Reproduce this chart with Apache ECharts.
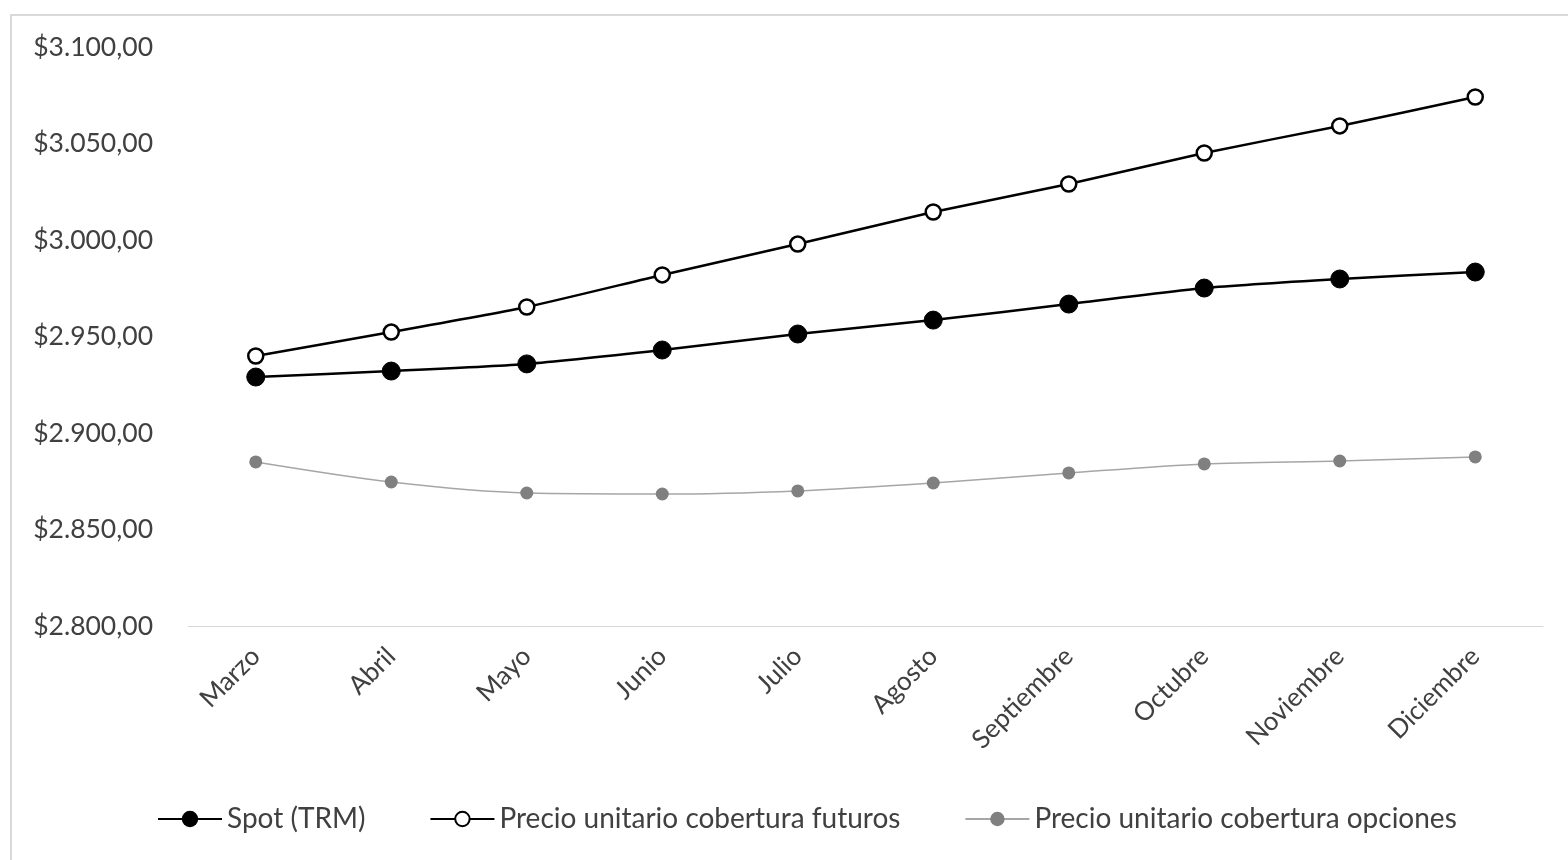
<!DOCTYPE html>
<html>
<head>
<meta charset="utf-8">
<script src="https://cdn.jsdelivr.net/npm/echarts@6/dist/echarts.min.js"></script>
<style>
  html, body { margin: 0; padding: 0; background: #fff; }
  #chart { width: 1568px; height: 860px; }
</style>
</head>
<body>
<div id="chart"></div>
<script>
// Months of the hedging horizon
const months = ['Marzo', 'Abril', 'Mayo', 'Junio', 'Julio', 'Agosto', 'Septiembre', 'Octubre', 'Noviembre', 'Diciembre'];

// Exchange rate (COP per USD)
const spotTRM = [2929.0, 2932.1, 2935.8, 2943.0, 2951.3, 2958.5, 2966.8, 2975.1, 2979.8, 2983.4];
const coberturaFuturos = [2939.9, 2952.3, 2965.3, 2981.9, 2997.9, 3014.5, 3029.0, 3045.1, 3059.1, 3074.1];
const coberturaOpciones = [2885.0, 2874.6, 2868.9, 2868.4, 2870.0, 2874.1, 2879.3, 2884.0, 2885.5, 2887.6];

const seriesNames = ['Spot (TRM)', 'Precio unitario cobertura futuros', 'Precio unitario cobertura opciones'];

const FONT = 'Lato, "Open Sans", sans-serif';
const TEXT = '#404040';

function fmtPeso(v) {
  const fixed = v.toFixed(2).split('.');
  const intPart = fixed[0].replace(/\B(?=(\d{3})+(?!\d))/g, '.');
  return '$' + intPart + ',' + fixed[1];
}

const chart = echarts.init(document.getElementById('chart'), null, { renderer: 'canvas' });

chart.setOption({
  backgroundColor: '#fff',
  animation: false,
  graphic: [{
    type: 'rect',
    shape: { x: 11, y: 15, width: 1570, height: 860 },
    style: { fill: 'none', stroke: '#d9d9d9', lineWidth: 2 },
    silent: true
  }],
  grid: { left: 188, right: 25, top: 47, bottom: 234, containLabel: false },
  xAxis: {
    type: 'category',
    data: months,
    boundaryGap: true,
    axisLine: { show: true, lineStyle: { color: '#d9d9d9', width: 1 } },
    axisTick: { show: false },
    axisLabel: {
      rotate: 45,
      color: TEXT,
      fontFamily: FONT,
      fontSize: 26,
      margin: 26,
      interval: 0
    }
  },
  yAxis: {
    type: 'value',
    min: 2800,
    max: 3100,
    interval: 50,
    axisLine: { show: false },
    axisTick: { show: false },
    splitLine: { show: false },
    axisLabel: {
      color: TEXT,
      fontFamily: FONT,
      fontSize: 26.5,
      margin: 35,
      formatter: fmtPeso
    }
  },
  legend: {
    bottom: 22,
    left: 152,
    itemWidth: 64,
    itemHeight: 18,
    itemGap: 64,
    textStyle: { color: TEXT, fontFamily: FONT, fontSize: 28 },
    data: seriesNames
  },
  series: [
    {
      name: seriesNames[0],
      type: 'line',
      data: spotTRM,
      smooth: 0.2,
      symbol: 'circle',
      symbolSize: 18,
      itemStyle: { color: '#000', borderColor: '#000', borderWidth: 1 },
      lineStyle: { color: '#000', width: 2.5 },
      z: 3
    },
    {
      name: seriesNames[1],
      type: 'line',
      data: coberturaFuturos,
      smooth: 0.2,
      symbol: 'circle',
      symbolSize: 15,
      itemStyle: { color: '#fff', borderColor: '#000', borderWidth: 2.5 },
      lineStyle: { color: '#000', width: 2.5 },
      z: 3
    },
    {
      name: seriesNames[2],
      type: 'line',
      data: coberturaOpciones,
      smooth: 0.3,
      symbol: 'circle',
      symbolSize: 13,
      itemStyle: { color: '#808080', borderColor: '#808080', borderWidth: 0 },
      lineStyle: { color: '#a6a6a6', width: 1.5 },
      z: 2
    }
  ]
});
</script>
</body>
</html>
